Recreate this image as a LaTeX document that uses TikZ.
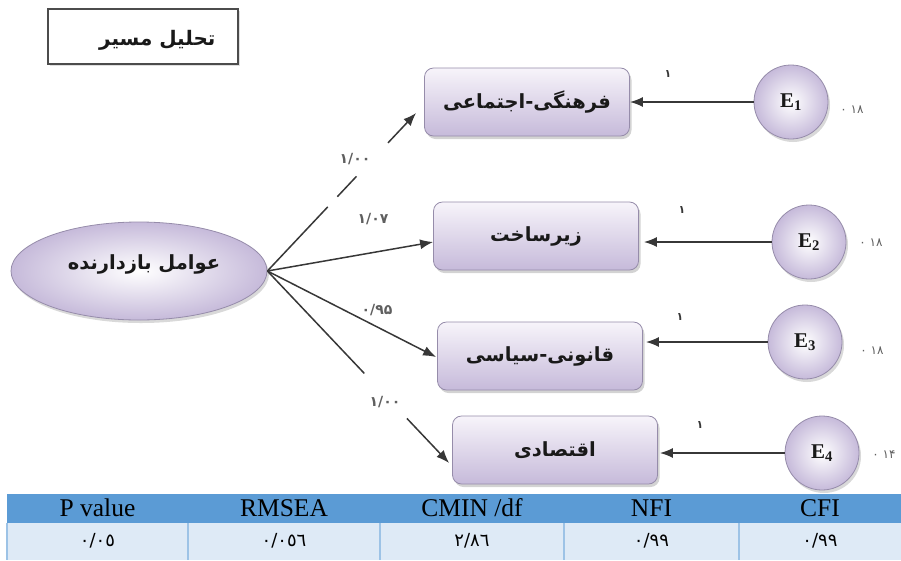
\documentclass[tikz,border=0pt]{standalone}
\usepackage{fontspec}
\setmainfont{Liberation Serif}
\newfontfamily\arabicfont[Script=Arabic]{DejaVu Sans}
\TeXXeTstate=1
\usetikzlibrary{arrows.meta,shadows,shapes.geometric,calc}
\definecolor{lav}{RGB}{198,186,218}
\definecolor{boxtop}{RGB}{247,244,250}
\definecolor{boxedge}{RGB}{150,140,170}
\definecolor{txt}{RGB}{25,25,25}
\definecolor{ln}{RGB}{55,55,55}
\definecolor{hdr}{RGB}{91,155,213}
\definecolor{rowc}{RGB}{222,234,246}
\definecolor{divc}{RGB}{157,195,230}
\begin{document}
\begin{tikzpicture}[x=1pt,y=-1pt,
  fbox/.style={rectangle, rounded corners=9pt, draw=boxedge, line width=0.8pt,
    top color=boxtop, bottom color=lav, minimum width=205pt, minimum height=68pt,
    drop shadow={shadow xshift=2pt, shadow yshift=-3pt, opacity=0.35, fill=gray},
    font=\arabicfont\bfseries\fontsize{19.5}{22}\selectfont, text=txt},
  enode/.style={circle, minimum size=74pt, inner sep=0pt, draw=boxedge, line width=0.8pt,
    inner color=white, outer color=lav,
    drop shadow={shadow xshift=2pt, shadow yshift=-3pt, opacity=0.3, fill=gray},
    font=\bfseries\fontsize{21}{23}\selectfont, text=txt},
  ellnode/.style={ellipse, minimum width=256pt, minimum height=98pt, draw=boxedge, line width=0.8pt,
    inner color=white, outer color=lav,
    drop shadow={shadow xshift=2pt, shadow yshift=-3pt, opacity=0.3, fill=gray}},
  arr/.style={draw=ln, line width=1.5pt, -{Latex[length=13pt,width=10pt]}},
  coef/.style={font=\arabicfont\bfseries\fontsize{14}{16}\selectfont, text=ln!80},
  one/.style={font=\arabicfont\bfseries\fontsize{11}{13}\selectfont, text=ln},
  var/.style={font=\arabicfont\fontsize{12}{14}\selectfont, text=ln!80},
  hdrtxt/.style={font=\fontsize{25.5}{27}\selectfont, text=black},
  celltxt/.style={font=\arabicfont\fontsize{18}{20}\selectfont, text=black}
]
\useasboundingbox (0,0) rectangle (901,560);

% title
\node[rectangle, draw=black!70, line width=1.6pt, fill=white, minimum width=190pt, minimum height=55pt,
  drop shadow={shadow xshift=1.5pt, shadow yshift=-1.5pt, opacity=0.25, fill=gray}] (tbox) at (143,36.5) {};
\node[anchor=east, font=\arabicfont\bfseries\fontsize{20}{22}\selectfont, text=txt] (ttext) at (219,40) {\beginR تحلیل مسیر\endR};

% latent ellipse
\node[ellnode] (ell) at (139,271) {};
\node[font=\arabicfont\bfseries\fontsize{19.5}{22}\selectfont, text=txt] (elltext) at (144,264) {\beginR عوامل بازدارنده\endR};

% indicator boxes
\node[fbox] (b1) at (527,102) {\beginR فرهنگی-اجتماعی\endR};
\node[fbox] (b2) at (536,236) {\beginR زیرساخت\endR};
\node[fbox] (b3) at (540,356) {\beginR قانونی-سیاسی\endR};
\node[fbox] (b4) at (555,450) {\beginR اقتصادی\endR};

% errors
\node[enode] (e1) at (791,102) {E\textsubscript{1}};
\node[enode] (e2) at (809,242) {E\textsubscript{2}};
\node[enode] (e3) at (805,342) {E\textsubscript{3}};
\node[enode] (e4) at (822,453) {E\textsubscript{4}};

% variance labels
\node[var] (v1) at (852,110) {\beginR ۱۸ ۰\endR};
\node[var] (v2) at (871,243) {\beginR ۱۸ ۰\endR};
\node[var] (v3) at (872,351) {\beginR ۱۸ ۰\endR};
\node[var] (v4) at (884,455) {\beginR ۱۴ ۰\endR};

% paths from latent
\draw[arr, dash pattern=on 88pt off 14pt on 28pt off 46pt on 120pt] (ell.east) -- ([shift={(-8,11)}]b1.west);
\draw[arr] (ell.east) -- ([shift={(0,6)}]b2.west);
\draw[arr] (ell.east) -- ([shift={(-1,1)}]b3.west);
\draw[arr, dash pattern=on 141pt off 62pt on 300pt] (ell.east) -- ([shift={(-3,13)}]b4.west);

\node[coef] (c1) at (355,159) {۱/۰۰};
\node[coef] (c2) at (373,219) {۱/۰۷};
\node[coef] (c3) at (377,310) {۰/۹۵};
\node[coef] (c4) at (385,402) {۱/۰۰};

% error paths
\draw[arr] (e1.west) -- (b1.east |- e1.west);
\draw[arr, shorten >=5pt] (e2.west) -- (b2.east |- e2.west);
\draw[arr, shorten >=3pt] (e3.west) -- (b3.east |- e3.west);
\draw[arr, shorten >=2pt] (e4.west) -- (b4.east |- e4.west);

\node[one] (o1) at (668,74) {۱};
\node[one] (o2) at (682,210) {۱};
\node[one] (o3) at (680,317) {۱};
\node[one] (o4) at (700,425) {۱};

% fit table
\fill[hdr] (7,494) rectangle (901,523);
\fill[rowc] (7,523) rectangle (901,560);
\draw[divc, line width=1.2pt] (7,523) -- (7,560);
\foreach \xx in {188,380,564,739} {\draw[divc, line width=1.2pt] (\xx,523) -- (\xx,560);}

\node[hdrtxt] (h1) at (97.5,508) {P value};
\node[hdrtxt] (h2) at (284,508) {RMSEA};
\node[hdrtxt] (h3) at (472,508) {CMIN /df};
\node[hdrtxt] (h4) at (651.5,508) {NFI};
\node[hdrtxt] (h5) at (820,508) {CFI};

\node[celltxt] (d1) at (97.5,541) {٠/٠٥};
\node[celltxt] (d2) at (284,541) {٠/٠٥٦};
\node[celltxt] (d3) at (472,541) {٢/٨٦};
\node[celltxt] (d4) at (651.5,541) {٠/٩٩};
\node[celltxt] (d5) at (820,541) {٠/٩٩};
\end{tikzpicture}
\end{document}
